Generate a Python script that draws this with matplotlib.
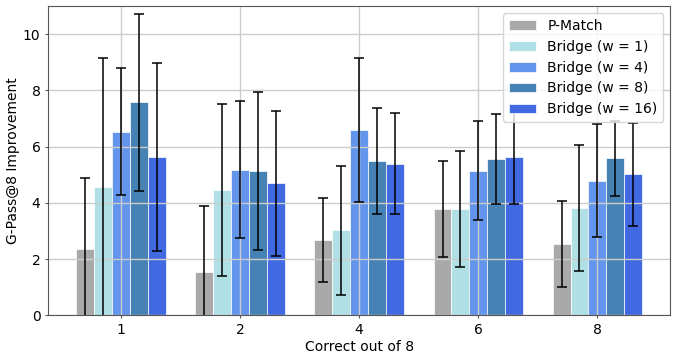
import numpy as np
import matplotlib
matplotlib.use("Agg")
import matplotlib.pyplot as plt

# categories on the x axis
categories = ["1", "2", "4", "6", "8"]

# series names and colours
series = ["P-Match", "Bridge (w = 1)", "Bridge (w = 4)", "Bridge (w = 8)", "Bridge (w = 16)"]
colors = ["darkgray", "powderblue", "cornflowerblue", "steelblue", "royalblue"]

# mean improvement per series and category
p_match = [2.35, 1.55, 2.68, 3.78, 2.54]
bridge_w1 = [4.57, 4.46, 3.02, 3.79, 3.82]
bridge_w4 = [6.54, 5.18, 6.61, 5.15, 4.79]
bridge_w8 = [7.58, 5.15, 5.49, 5.56, 5.59]
bridge_w16 = [5.64, 4.70, 5.40, 5.63, 5.02]

# error bar half-widths
p_match_err = [2.55, 2.33, 1.49, 1.71, 1.54]
bridge_w1_err = [4.58, 3.07, 2.31, 2.06, 2.23]
bridge_w4_err = [2.27, 2.44, 2.56, 1.76, 2.00]
bridge_w8_err = [3.14, 2.81, 1.87, 1.61, 1.33]
bridge_w16_err = [3.35, 2.58, 1.80, 1.67, 1.83]

means = [p_match, bridge_w1, bridge_w4, bridge_w8, bridge_w16]
errs = [p_match_err, bridge_w1_err, bridge_w4_err, bridge_w8_err, bridge_w16_err]

plt.rcParams["font.size"] = 10

fig, ax = plt.subplots(figsize=(6.77, 3.6), dpi=100)

x = np.arange(len(categories))
width = 0.15
for i, (name, m, e, c) in enumerate(zip(series, means, errs, colors)):
    ax.bar(x + (i - 2) * width, m, width, yerr=e, color=c, edgecolor="white",
           linewidth=0.5, label=name, capsize=3.5,
           error_kw=dict(elinewidth=1.1, capthick=1.1, ecolor="black"))

ax.set_xticks(x)
ax.set_xticklabels(categories)
ax.tick_params(length=2.5, width=0.8, pad=3, color="#555555")
ax.set_ylim(0, 11)
ax.set_xlabel("Correct out of 8", labelpad=2)
ax.set_ylabel("G-Pass@8 Improvement", labelpad=2)
ax.grid(True, color="#cccccc", linewidth=1)
ax.legend(loc="upper right")
for s in ax.spines.values():
    s.set_color("#555555")

fig.subplots_adjust(left=0.071, right=0.99, top=0.983, bottom=0.124)
fig.savefig("out.png")
